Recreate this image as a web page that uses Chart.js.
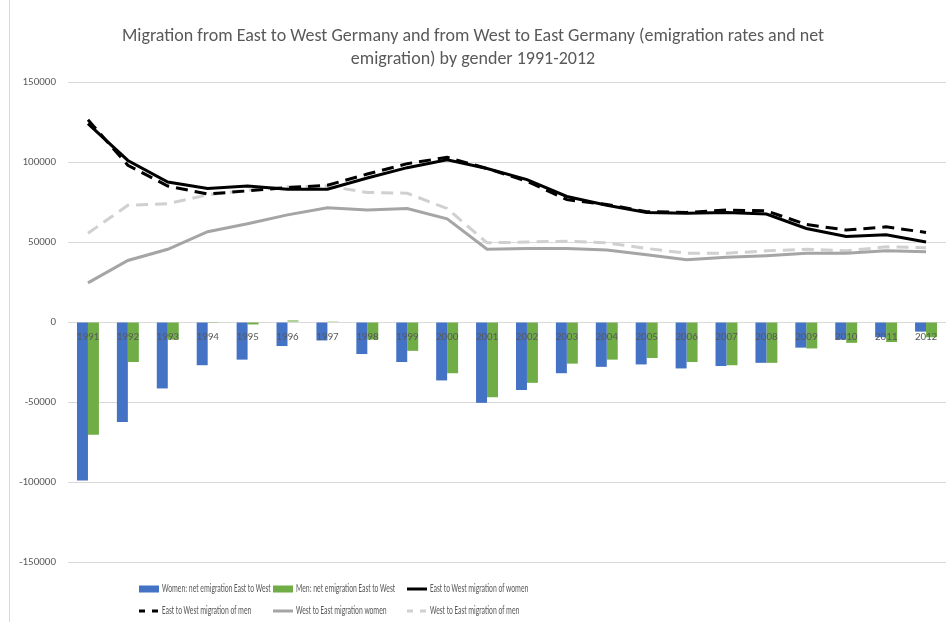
<!DOCTYPE html>
<html>
<head>
<meta charset="utf-8">
<script src="https://cdn.jsdelivr.net/npm/chart.js@4"></script>
<style>
  html, body { margin: 0; padding: 0; background: #fff; }
  #wrap { width: 947px; height: 622px; position: relative; }
</style>
</head>
<body>
<div id="wrap"><canvas id="myChart" width="947" height="622"></canvas></div>
<script>
const years = ['1991', '1992', '1993', '1994', '1995', '1996', '1997', '1998', '1999', '2000', '2001',
  '2002', '2003', '2004', '2005', '2006', '2007', '2008', '2009', '2010', '2011', '2012']

const womenNet = [-99000, -62500, -41500, -27000, -23500, -15000, -11500, -20000, -25000, -36500, -50500,
  -42500, -32000, -28000, -26500, -29000, -27500, -25500, -16000, -11000, -9500, -6000]
const menNet = [-70500, -25000, -11000, -500, -1500, 1000, 500, -11000, -18000, -32000, -47000,
  -38000, -26000, -23500, -22500, -25000, -27000, -25500, -16500, -13000, -12500, -9500]

const eastWestWomen = [124000, 101000, 87500, 83500, 85000, 83000, 83000, 90000, 96500, 101500, 96000,
  89000, 78500, 73000, 68500, 68000, 68500, 67500, 58500, 53500, 54500, 50000]
const eastWestMen = [126500, 98000, 85000, 80000, 82000, 84000, 85500, 92500, 99000, 103000, 96000,
  88000, 76500, 73500, 69000, 68500, 70000, 69500, 61000, 57500, 59500, 56000]
const westEastWomen = [24500, 38500, 45500, 56500, 61500, 67000, 71500, 70000, 71000, 64500, 45500,
  46000, 46000, 45000, 42000, 39000, 40500, 41500, 43000, 43000, 44500, 44000]
const westEastMen = [55500, 73000, 74000, 79500, 82500, 84500, 85000, 81000, 80500, 71000, 49500,
  50000, 50500, 49500, 46000, 43000, 43000, 44500, 45500, 44500, 47000, 46500]

const yTicks = [150000, 100000, 50000, 0, -50000, -100000, -150000]

const fontFamily = "Carlito, 'Open Sans', sans-serif"
const textColor = '#595959'

// legend in three columns, like the original (text is narrow there)
const legendPlugin = {
  id: 'gridLegend',
  afterDraw(chart) {
    const ctx = chart.ctx
    ctx.save()
    ctx.font = '13px ' + fontFamily
    ctx.textBaseline = 'middle'
    chart.data.datasets.forEach((ds, i) => {
      const x = 139 + (i % 3) * 134
      const y = 589 + Math.floor(i / 3) * 22
      if (ds.type === 'line') {
        ctx.strokeStyle = ds.borderColor
        ctx.lineWidth = 3
        ctx.setLineDash(ds.borderDash ? [6, 7] : [])
        ctx.beginPath()
        ctx.moveTo(x, y)
        ctx.lineTo(x + 20, y)
        ctx.stroke()
        ctx.setLineDash([])
      } else {
        ctx.fillStyle = ds.backgroundColor
        ctx.fillRect(x, y - 3.5, 20, 7)
      }
      ctx.fillStyle = textColor
      const w = ctx.measureText(ds.label).width
      ctx.fillText(ds.label, x + 23, y, w * 0.56)
    })
    ctx.restore()
  }
}

const framePlugin = {
  id: 'frame',
  beforeDraw(chart) {
    const ctx = chart.ctx
    ctx.save()
    ctx.strokeStyle = '#d9d9d9'
    ctx.lineWidth = 1
    ctx.beginPath()
    ctx.moveTo(9.5, 0)
    ctx.lineTo(9.5, 622)
    ctx.stroke()
    ctx.restore()
  }
}

const myChart = document.getElementById('myChart').getContext('2d')

const migrationChart = new Chart(myChart, {
  type: 'bar',
  data: {
    labels: years,
    datasets: [
      {
        label: 'Women: net emigration East to West',
        data: womenNet,
        backgroundColor: '#4472C4',
        categoryPercentage: 0.55,
        barPercentage: 1,
        order: 2
      },
      {
        label: 'Men: net emigration East to West',
        data: menNet,
        backgroundColor: '#70AD47',
        categoryPercentage: 0.55,
        barPercentage: 1,
        order: 2
      },
      {
        label: 'East to West migration of women',
        data: eastWestWomen,
        type: 'line',
        borderColor: '#000000',
        borderWidth: 3,
        pointRadius: 0,
        tension: 0,
        order: 1
      },
      {
        label: 'East to West migration of men',
        data: eastWestMen,
        type: 'line',
        borderColor: '#000000',
        borderWidth: 3,
        borderDash: [12, 7],
        pointRadius: 0,
        tension: 0,
        order: 0
      },
      {
        label: 'West to East migration women',
        data: westEastWomen,
        type: 'line',
        borderColor: '#A5A5A5',
        borderWidth: 3,
        pointRadius: 0,
        tension: 0,
        order: 1
      },
      {
        label: 'West to East migration of men',
        data: westEastMen,
        type: 'line',
        borderColor: '#D0D0D0',
        borderWidth: 3,
        borderDash: [12, 7],
        pointRadius: 0,
        tension: 0,
        order: 1
      }
    ]
  },
  options: {
    responsive: false,
    animation: false,
    layout: {
      padding: { left: 0, right: 1, top: 0, bottom: 60 }
    },
    plugins: {
      legend: { display: false },
      tooltip: { enabled: false },
      title: {
        display: true,
        text: ['Migration from East to West Germany and from West to East Germany (emigration rates and net',
          'emigration) by gender 1991-2012'],
        color: textColor,
        font: { family: fontFamily, size: 18, weight: 'normal', lineHeight: 1.28 },
        padding: { top: 25, bottom: 11 }
      }
    },
    scales: {
      x: {
        position: { y: 0 },
        grid: { display: false, drawTicks: false },
        border: { display: false },
        ticks: {
          z: 1,
          color: textColor,
          font: { family: fontFamily, size: 11 },
          padding: 9,
          maxRotation: 0,
          autoSkip: false
        }
      },
      y: {
        min: -150000,
        max: 150000,
        afterBuildTicks(scale) {
          scale.ticks = yTicks.map(v => ({ value: v }))
        },
        afterFit(scale) {
          scale.width = 68
        },
        grid: { color: '#d9d9d9', drawTicks: false },
        border: { display: false },
        ticks: {
          color: textColor,
          font: { family: fontFamily, size: 11 },
          padding: 12,
          callback: v => String(v)
        }
      }
    }
  },
  plugins: [framePlugin, legendPlugin]
})
</script>
</body>
</html>
